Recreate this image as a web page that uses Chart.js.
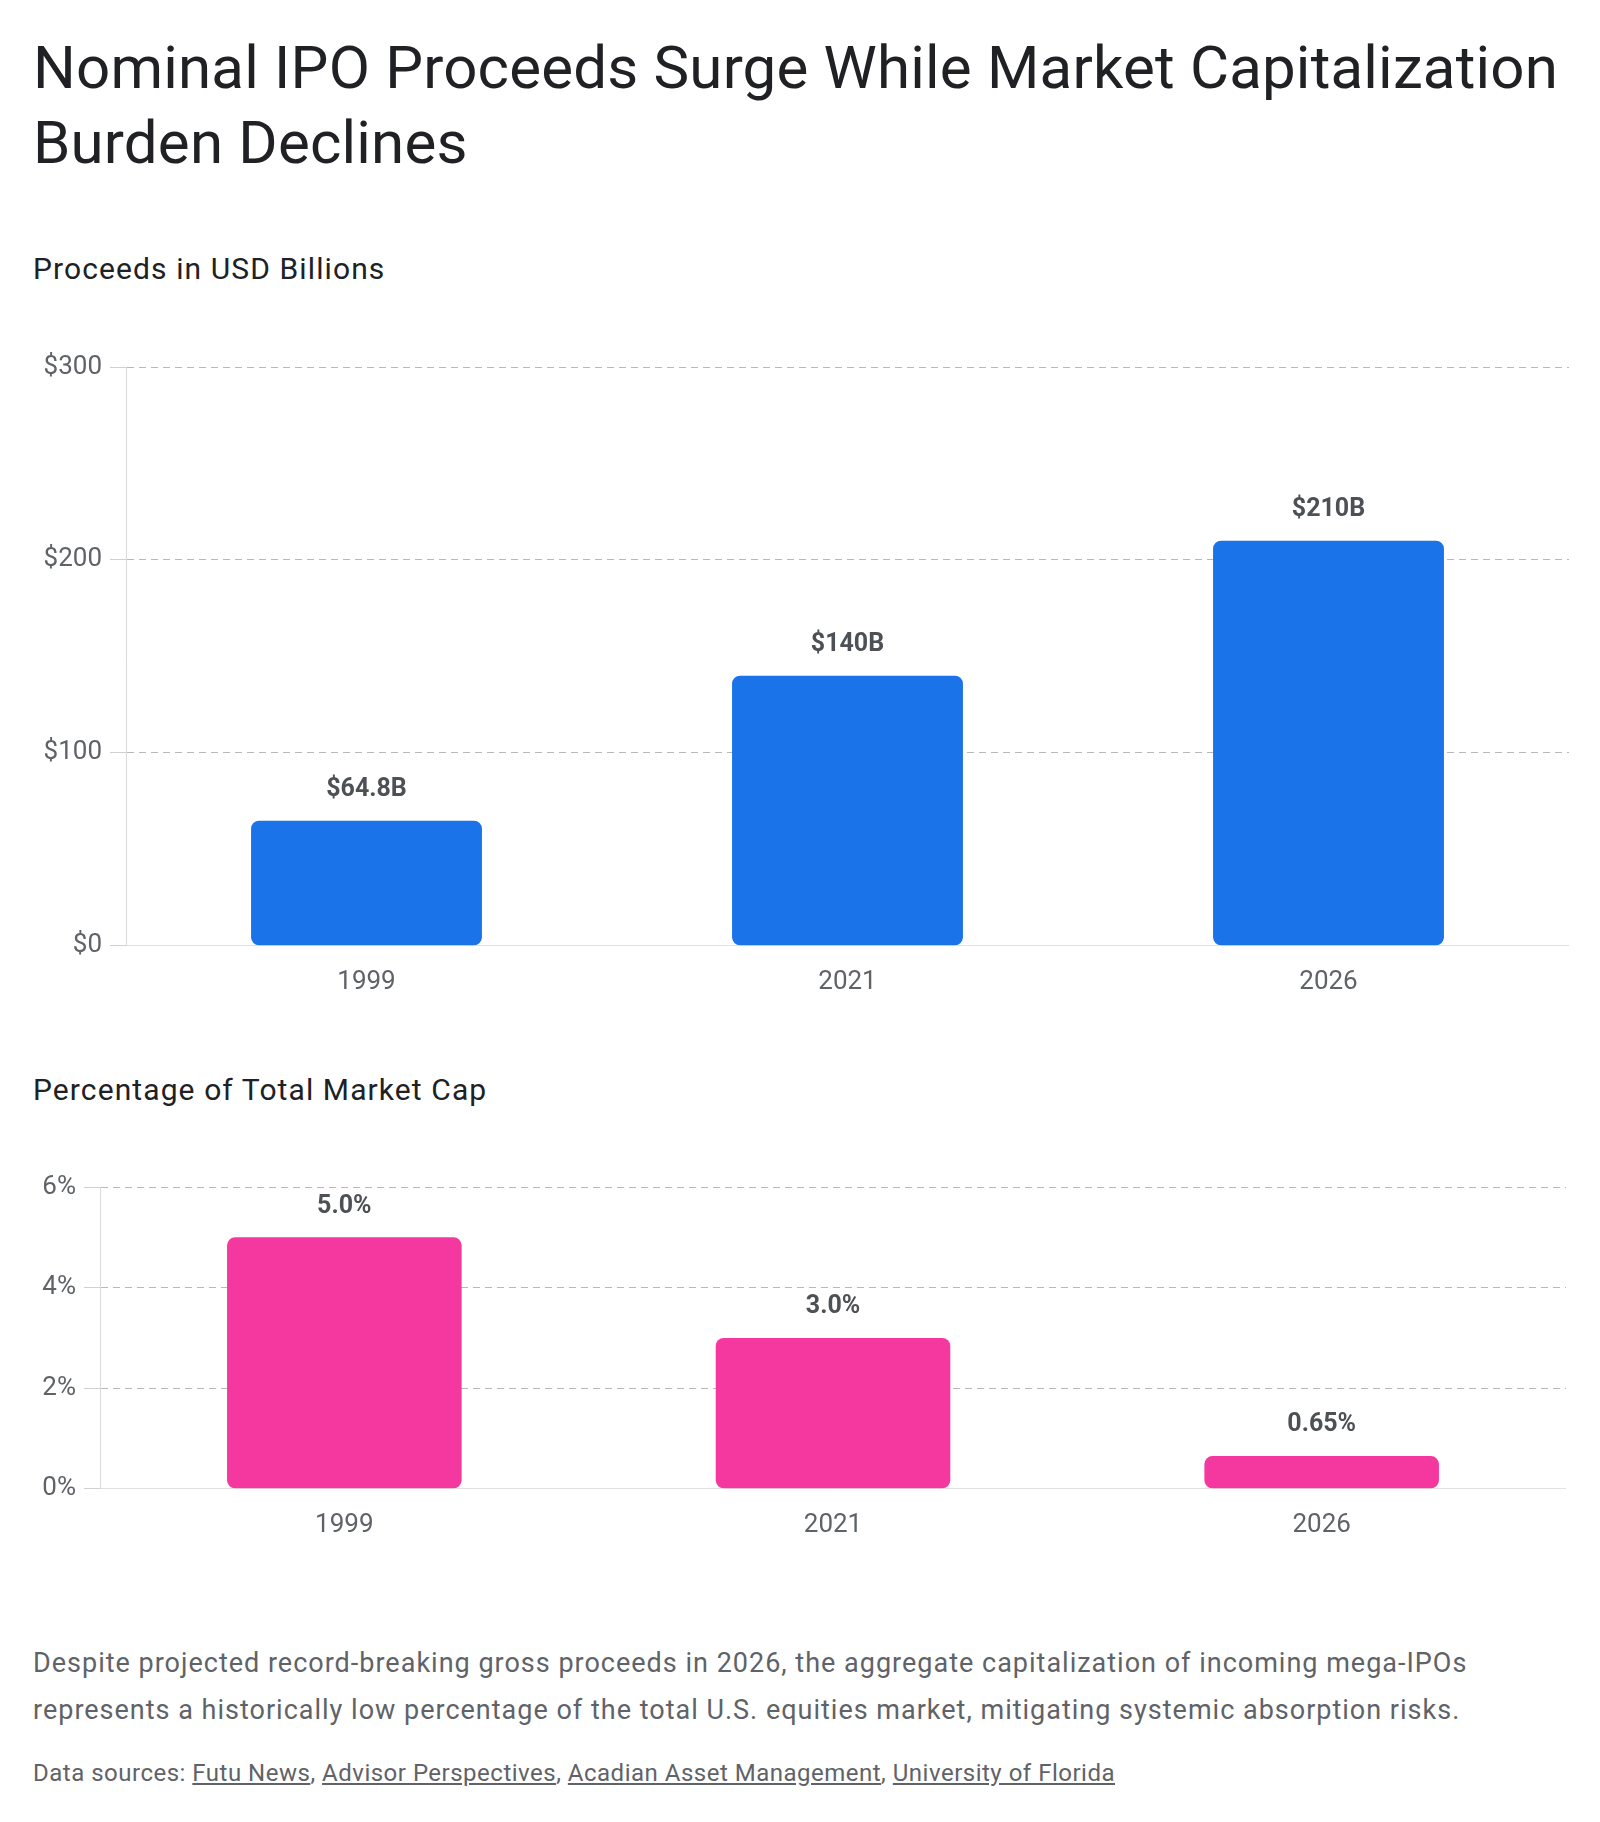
<!DOCTYPE html>
<html>
<head>
<meta charset="utf-8">
<script src="https://cdn.jsdelivr.net/npm/chart.js@4.4.1/dist/chart.umd.min.js"></script>
<style>
  html, body { margin: 0; padding: 0; background: #ffffff; }
  body { width: 1600px; height: 1822px; position: relative; font-family: Roboto, "Open Sans", sans-serif; overflow: hidden; }
  .abs { position: absolute; left: 33px; margin: 0; white-space: nowrap; }
  h1 { font-weight: 400; font-size: 60px; line-height: 75px; color: #202124; top: 30px; letter-spacing: 0.2px; }
  h2 { font-weight: 400; font-size: 30px; line-height: 1.2; color: #202124; letter-spacing: 1.1px; }
  .box { position: absolute; }
  .caption { font-size: 27px; line-height: 47px; color: #5f6368; top: 1640px; letter-spacing: 1px; }
  .sources { font-size: 24px; line-height: 1.2; color: #5f6368; top: 1759px; letter-spacing: 0.5px; }
  .sources a { color: #5f6368; text-decoration: underline; }
</style>
</head>
<body>
<h1 class="abs">Nominal IPO Proceeds Surge While Market Capitalization<br>Burden Declines</h1>

<h2 class="abs" style="top:251px">Proceeds in USD Billions</h2>
<div class="box" style="left:33px; top:340px; width:1536px; height:679px;">
  <canvas id="proceedsChart"></canvas>
</div>

<h2 class="abs" style="top:1072px">Percentage of Total Market Cap</h2>
<div class="box" style="left:33px; top:1160px; width:1533px; height:402px;">
  <canvas id="shareChart"></canvas>
</div>

<p class="abs caption">Despite projected record-breaking gross proceeds in 2026, the aggregate capitalization of incoming mega-IPOs<br>represents a historically low percentage of the total U.S. equities market, mitigating systemic absorption risks.</p>
<p class="abs sources">Data sources: <a>Futu News</a>, <a>Advisor Perspectives</a>, <a>Acadian Asset Management</a>, <a>University of Florida</a></p>

<script>
const years = ['1999', '2021', '2026'];
const proceeds = [64.8, 140, 210];
const proceedsLabels = ['$64.8B', '$140B', '$210B'];
const marketShare = [5.0, 3.0, 0.65];
const shareLabels = ['5.0%', '3.0%', '0.65%'];
const proceedsTicks = [0, 100, 200, 300];
const shareTicks = [0, 2, 4, 6];

const tickColor = '#5f6368';
const gridColor = '#b8b8b8';

// draws the value text above each bar
const valueLabels = {
    id: 'valueLabels',
    afterDatasetsDraw(chart, args, opts) {
        const ctx = chart.ctx;
        const meta = chart.getDatasetMeta(0);
        ctx.save();
        ctx.font = 'bold 25px Roboto, sans-serif';
        ctx.fillStyle = '#4d5156';
        ctx.textAlign = 'center';
        ctx.textBaseline = 'middle';
        meta.data.forEach((bar, i) => {
            ctx.fillText(opts.labels[i], bar.x, bar.y - 31);
        });
        ctx.restore();
    }
};

function makeChart(id, values, labels, color, ticks, fmt, axisWidth) {
    const ctx = document.getElementById(id).getContext('2d');
    return new Chart(ctx, {
        type: 'bar',
        data: {
            labels: years,
            datasets: [{
                data: values,
                backgroundColor: color,
                borderRadius: 8,
                borderSkipped: false,
                barPercentage: 0.6,
                categoryPercentage: 0.8,
            }],
        },
        options: {
            responsive: true,
            maintainAspectRatio: false,
            animation: false,
            layout: { padding: { top: 27, right: 0, bottom: 0, left: 0 } },
            plugins: {
                legend: { display: false },
                tooltip: { enabled: false },
                valueLabels: { labels: labels },
            },
            scales: {
                x: {
                    grid: { display: false, drawTicks: false },
                    border: { display: true, color: '#e0e0e0' },
                    ticks: { color: tickColor, font: { size: 26, family: 'Roboto' }, padding: 21 },
                },
                y: {
                    min: ticks[0],
                    max: ticks[ticks.length - 1],
                    afterBuildTicks: (scale) => { scale.ticks = ticks.map(v => ({ value: v })); },
                    afterFit: (scale) => { scale.width = axisWidth; },
                    grid: { color: gridColor, tickBorderDash: [], tickLength: 16, tickColor: '#d0d0d0' },
                    border: { display: true, color: '#dadada', dash: [7, 5] },
                    ticks: { color: tickColor, font: { size: 26, family: 'Roboto' }, padding: 8, callback: fmt },
                },
            },
        },
        plugins: [valueLabels],
    });
}

makeChart('proceedsChart', proceeds, proceedsLabels, '#1a73e8', proceedsTicks, v => '$' + v, 93);
makeChart('shareChart', marketShare, shareLabels, '#f538a0', shareTicks, v => v + '%', 67);
</script>
</body>
</html>
